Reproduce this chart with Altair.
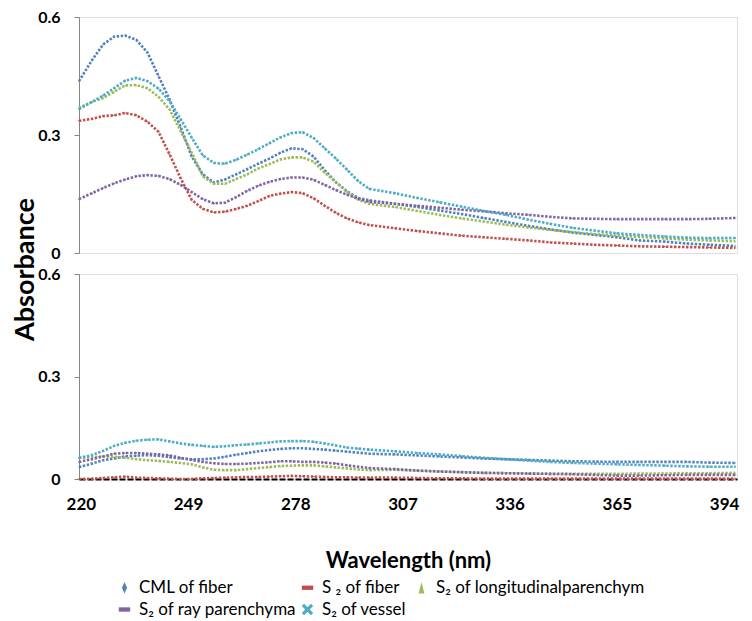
import altair as alt
import pandas as pd

# ---------------- data ----------------
wavelength = [219.5, 223, 226, 229, 232, 235, 238, 241, 244, 247, 250, 253, 256, 259,
              262, 265, 268, 271, 274, 277, 280, 283, 286, 289, 292, 295, 298,
              305, 311, 317, 323, 329, 335, 341, 347, 353, 359, 365, 371, 378, 384, 390, 397]

series_names = ["CML of  fiber", "S \u2082 of  fiber", "S\u2082 of longitudinalparenchym",
                "S\u2082 of ray parenchyma", "S\u2082 of  vessel"]
series_colors = ["#4F81BD", "#C0504D", "#9BBB59", "#8064A2", "#4BACC6"]

# upper panel
top_cml = [0.437, 0.49, 0.53, 0.55, 0.553, 0.542, 0.51, 0.45, 0.39, 0.32, 0.245, 0.2, 0.179, 0.187,
           0.2, 0.213, 0.227, 0.24, 0.255, 0.266, 0.264, 0.245, 0.21, 0.18, 0.157, 0.14, 0.134,
           0.125, 0.117, 0.108, 0.099, 0.089, 0.079, 0.069, 0.06, 0.052, 0.046, 0.04, 0.032, 0.029, 0.024, 0.021, 0.018]
top_s2f = [0.336, 0.341, 0.348, 0.35, 0.356, 0.35, 0.334, 0.308, 0.251, 0.19, 0.135, 0.112, 0.103, 0.105,
           0.112, 0.12, 0.132, 0.145, 0.151, 0.155, 0.152, 0.139, 0.12, 0.102, 0.088, 0.078, 0.071,
           0.063, 0.056, 0.05, 0.044, 0.04, 0.036, 0.032, 0.027, 0.024, 0.021, 0.019, 0.017, 0.016, 0.015, 0.014, 0.013]
top_lp = [0.369, 0.384, 0.394, 0.41, 0.426, 0.427, 0.419, 0.397, 0.365, 0.31, 0.255, 0.195, 0.176, 0.176,
          0.188, 0.2, 0.215, 0.226, 0.238, 0.243, 0.243, 0.232, 0.204, 0.18, 0.155, 0.136, 0.125,
          0.117, 0.107, 0.097, 0.088, 0.08, 0.072, 0.065, 0.059, 0.053, 0.048, 0.044, 0.041, 0.037, 0.034, 0.032, 0.03]
top_rp = [0.137, 0.152, 0.165, 0.177, 0.187, 0.195, 0.198, 0.196, 0.188, 0.173, 0.155, 0.137, 0.126, 0.128,
          0.142, 0.158, 0.171, 0.181, 0.188, 0.192, 0.192, 0.186, 0.173, 0.16, 0.148, 0.138, 0.13,
          0.125, 0.12, 0.115, 0.11, 0.106, 0.101, 0.097, 0.092, 0.088, 0.087, 0.086, 0.086, 0.086, 0.086, 0.087, 0.089]
top_v = [0.366, 0.384, 0.4, 0.419, 0.438, 0.445, 0.437, 0.418, 0.386, 0.34, 0.293, 0.248, 0.229, 0.227,
         0.237, 0.25, 0.264, 0.279, 0.294, 0.305, 0.307, 0.292, 0.266, 0.24, 0.212, 0.183, 0.163,
         0.152, 0.14, 0.129, 0.118, 0.107, 0.097, 0.085, 0.074, 0.064, 0.057, 0.05, 0.046, 0.042, 0.039, 0.038, 0.038]

# lower panel
bot_cml = [0.035, 0.045, 0.055, 0.06, 0.066, 0.068, 0.07, 0.068, 0.064, 0.06, 0.058, 0.058, 0.06, 0.065,
           0.071, 0.076, 0.081, 0.085, 0.088, 0.09, 0.09, 0.088, 0.086, 0.083, 0.08, 0.077, 0.074,
           0.072, 0.069, 0.066, 0.063, 0.06, 0.058, 0.056, 0.054, 0.052, 0.051, 0.05, 0.05, 0.05, 0.05, 0.048, 0.047]
bot_s2f = [0.0, 0.001, 0.003, 0.005, 0.007, 0.004, 0.003, 0.002, 0.001, 0.0, 0.0, 0.002, 0.003, 0.004,
           0.005, 0.006, 0.006, 0.007, 0.008, 0.009, 0.008, 0.007, 0.006, 0.005, 0.005, 0.004, 0.004,
           0.004, 0.003, 0.002, 0.002, 0.001, 0.001, 0.001, 0.001, 0.001, 0.001, 0.001, 0.001, 0.001, 0.001, 0.001, 0.001]
bot_lp = [0.062, 0.064, 0.066, 0.065, 0.062, 0.058, 0.055, 0.053, 0.05, 0.047, 0.043, 0.034, 0.027, 0.026,
          0.026, 0.029, 0.032, 0.035, 0.038, 0.039, 0.04, 0.04, 0.037, 0.034, 0.031, 0.028, 0.026,
          0.027, 0.024, 0.022, 0.02, 0.018, 0.017, 0.016, 0.015, 0.015, 0.015, 0.015, 0.016, 0.016, 0.017, 0.017, 0.018]
bot_rp = [0.05, 0.058, 0.066, 0.074, 0.076, 0.076, 0.074, 0.072, 0.069, 0.062, 0.056, 0.05, 0.046, 0.044,
          0.044, 0.045, 0.047, 0.049, 0.052, 0.052, 0.05, 0.05, 0.048, 0.045, 0.04, 0.036, 0.032,
          0.029, 0.025, 0.022, 0.02, 0.018, 0.017, 0.016, 0.015, 0.014, 0.012, 0.01, 0.01, 0.011, 0.012, 0.012, 0.012]
bot_v = [0.062, 0.07, 0.082, 0.097, 0.106, 0.112, 0.115, 0.116, 0.11, 0.104, 0.1, 0.097, 0.094, 0.096,
         0.099, 0.101, 0.104, 0.107, 0.11, 0.111, 0.111, 0.109, 0.104, 0.098, 0.092, 0.089, 0.086,
         0.081, 0.076, 0.072, 0.067, 0.062, 0.058, 0.054, 0.05, 0.047, 0.045, 0.043, 0.041, 0.039, 0.037, 0.036, 0.036]

x_ticks = [220, 249, 278, 307, 336, 365, 394]
y_ticks = [0, 0.3, 0.6]

# legend marker shapes (Excel-like)
diamond = "M0,-1L0.45,0L0,1L-0.45,0Z"
bar = "M-1,-0.38L1,-0.38L1,0.38L-1,0.38Z"
tri = "M0,-1L0.5,1L-0.5,1Z"
xshape = "M-1,-0.6L-0.6,-1L0,-0.4L0.6,-1L1,-0.6L0.4,0L1,0.6L0.6,1L0,0.4L-0.6,1L-1,0.6L-0.4,0Z"
series_shapes = [diamond, bar, tri, bar, xshape]


def to_long(lists):
    rows = []
    for name, vals in zip(series_names, lists):
        for w, v in zip(wavelength, vals):
            rows.append({"wavelength": w, "absorbance": v, "series": name})
    return pd.DataFrame(rows)


df_top = to_long([top_cml, top_s2f, top_lp, top_rp, top_v])
df_bot = to_long([bot_cml, bot_s2f, bot_lp, bot_rp, bot_v])

FONT = "Lato"
x_scale = alt.Scale(domain=[219.5, 397.5], nice=False, zero=False)
y_scale = alt.Scale(domain=[0, 0.6], nice=False)
color_scale = alt.Scale(domain=series_names, range=series_colors)
shape_scale = alt.Scale(domain=series_names, range=series_shapes)


def y_axis(title, **kw):
    return alt.Axis(values=y_ticks, format=".1~f", grid=False, domainColor="#868686",
                    tickColor="#868686", tickSize=5, labelPadding=14, labelFont=FONT,
                    labelFontSize=16, labelFontWeight="bold", labelColor="#000000",
                    title=title, **kw)


legend = alt.Legend(orient="none", legendX=37, legendY=305, direction="horizontal",
                    columns=3, columnPadding=2, rowPadding=4,
                    title=None, labelFont=FONT, labelFontSize=17, labelColor="#000000",
                    labelLimit=400, symbolSize=130, symbolStrokeWidth=0, labelOffset=6)


def panel(df, height, x_axis, yax, leg):
    base = alt.Chart(df).encode(
        x=alt.X("wavelength:Q", scale=x_scale, axis=x_axis),
        y=alt.Y("absorbance:Q", scale=y_scale, axis=yax),
    )
    pts = base.mark_point(filled=True, size=5, opacity=1).encode(
        color=alt.Color("series:N", scale=color_scale, legend=leg),
        shape=alt.Shape("series:N", scale=shape_scale, legend=leg),
    )
    lines = base.mark_line(strokeDash=[2.4, 1.6], strokeWidth=2.6).encode(
        color=alt.Color("series:N", scale=color_scale, legend=leg),
    )
    return alt.layer(pts, lines).properties(width=658, height=height)


top = panel(
    df_top, 236, None,
    y_axis("Absorbance", titleFont=FONT, titleFontSize=27, titleFontWeight="bold",
           titleColor="#000000", titleX=-40, titleY=252, titleAngle=270),
    None,
)

bottom_x = alt.Axis(values=x_ticks, grid=False, ticks=False, tickSize=0, domainColor="#000000",
                    domainWidth=2, domainDash=[6, 2], labelPadding=17, labelFlush=False,
                    labelFont=FONT, labelFontSize=17, labelFontWeight="bold", labelColor="#000000",
                    title="Wavelength (nm)", titleFont=FONT, titleFontSize=22,
                    titleFontWeight="bold", titleColor="#000000", titlePadding=38)
bottom = panel(df_bot, 205, bottom_x, y_axis(None), legend)

chart = alt.vconcat(top, bottom, spacing=21, bounds="flush").resolve_scale(
    color="independent", shape="independent"
).resolve_legend(
    color="independent", shape="independent"
).properties(
    padding={"left": 2, "top": 0, "right": 0, "bottom": 0}
).configure_view(stroke=None).configure(font=FONT)

chart.save("out.html", embed_options={"renderer": "svg", "actions": False})
